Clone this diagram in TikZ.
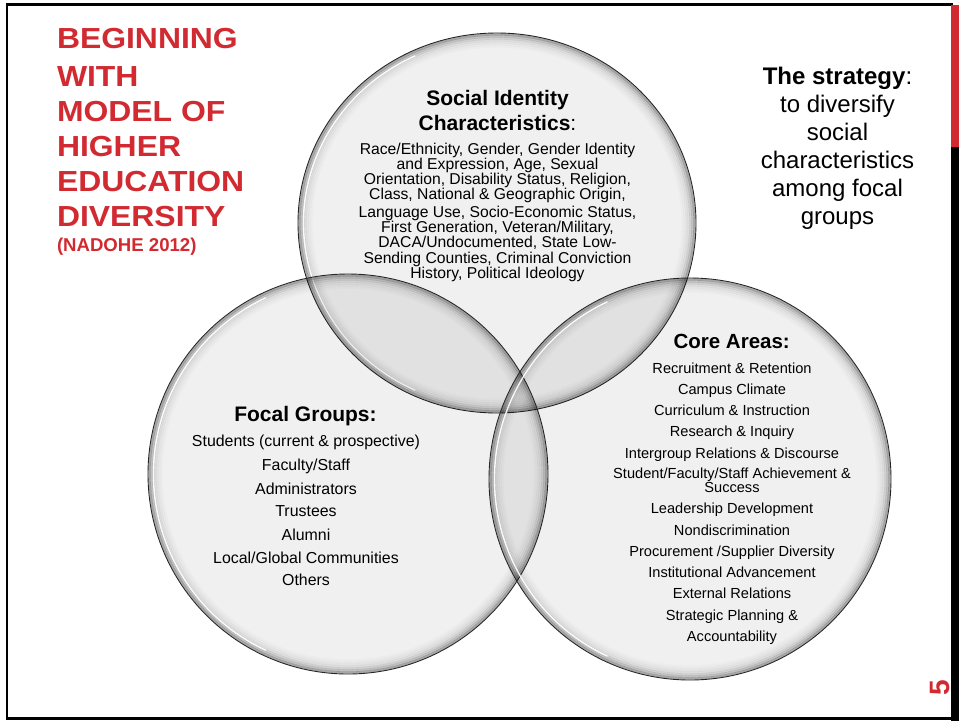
\documentclass[tikz,border=0pt]{standalone}
\usepackage{fontspec}
\setmainfont{Liberation Sans}
\newfontfamily\titlefont[FakeStretch=1.1]{Liberation Sans}
\definecolor{tred}{HTML}{D12A31}
\newcommand\vennshape[3]{%
  \fill[black, opacity=0.06] (#1) ellipse [x radius=#2, y radius=#3];
  \foreach \d/\o in {1.5/0.30,3.5/0.20,5.5/0.13,7.5/0.08,9.5/0.05,11.5/0.03,13.5/0.015}
    \draw[black, opacity=\o, line width=2.2pt] (#1) ellipse [x radius=#2-\d, y radius=#3-\d];
  \draw[white, opacity=0.9, line width=1.4pt] (#1) ++(115:#2-5.5 and #3-5.5)
     arc [start angle=115, end angle=245, x radius=#2-5.5, y radius=#3-5.5];
  \draw[black!85, line width=0.9pt] (#1) ellipse [x radius=#2, y radius=#3];
}
\begin{document}
\begin{tikzpicture}[x=1pt,y=-1pt,
  every node/.style={inner sep=0pt, outer sep=0pt},
  titleline/.style={anchor=base west, text=tred, font=\titlefont\bfseries\fontsize{29}{29}\selectfont},
  subtitle/.style={anchor=base west, text=tred, font=\bfseries\fontsize{18.6}{19}\selectfont},
  headline/.style={anchor=base, font=\bfseries\fontsize{21}{21}\selectfont},
  sline/.style={anchor=base, font=\fontsize{15.7}{16}\selectfont},
  fline/.style={anchor=base, font=\fontsize{15.9}{16}\selectfont},
  cline/.style={anchor=base, font=\fontsize{14.6}{15}\selectfont},
  stline/.style={anchor=base, font=\fontsize{24}{24}\selectfont}]
\useasboundingbox (0,0) rectangle (959,721);
\fill[white] (0,0) rectangle (959,721);

% frame
\draw[black, line width=2.5pt] (7,4.5) rectangle (952,718.5);
\fill[tred] (951,5) rectangle (959,147);
\fill[black] (951,147) rectangle (959,721);

% circles
\coordinate (ctop) at (497,223);
\coordinate (cleft) at (348,474);
\coordinate (cright) at (690,479);
\vennshape{ctop}{199}{190}
\vennshape{cleft}{200}{200}
\vennshape{cright}{201}{201}

% title
\node[titleline] (t1) at (57,48) {BEGINNING};
\node[titleline] (t2) at (57,86) {WITH};
\node[titleline] (t3) at (57,121.5) {MODEL OF};
\node[titleline] (t4) at (57,156.5) {HIGHER};
\node[titleline] (t5) at (57,191) {EDUCATION};
\node[titleline] (t6) at (57,226) {DIVERSITY};
\node[subtitle] (t7) at (57,251) {(NADOHE 2012)};

% strategy
\node[stline] (s1) at (837.5,84) {\textbf{The strategy}:};
\node[stline] (s2) at (837.5,112) {to diversify};
\node[stline] (s3) at (837.5,140) {social};
\node[stline] (s4) at (837.5,168) {characteristics};
\node[stline] (s5) at (837.5,196) {among focal};
\node[stline] (s6) at (837.5,224) {groups};

% social identity
\node[headline] (sih1) at (497.5,105) {Social Identity};
\node[headline] (sih2) at (497.5,130) {Characteristics\textmd{:}};
\node[sline] (si1) at (497.5,154) {Race/Ethnicity, Gender, Gender Identity};
\node[sline] (si2) at (497.5,169.3) {and Expression, Age, Sexual};
\node[sline] (si3) at (497.5,184.3) {Orientation, Disability Status, Religion,};
\node[sline] (si4) at (497.5,199.3) {Class, National \& Geographic Origin,};
\node[sline] (si5) at (497.5,217.7) {Language Use, Socio-Economic Status,};
\node[sline] (si6) at (497.5,232.7) {First Generation, Veteran/Military,};
\node[sline] (si7) at (497.5,247.7) {DACA/Undocumented, State Low-};
\node[sline] (si8) at (497.5,263) {Sending Counties, Criminal Conviction};
\node[sline] (si9) at (497.5,278) {History, Political Ideology};

% focal groups
\node[headline] (fgh) at (305.5,421.7) {Focal Groups:};
\node[fline] (fg1) at (306,446) {Students (current \& prospective)};
\node[fline] (fg2) at (306,470) {Faculty/Staff};
\node[fline] (fg3) at (306,494) {Administrators};
\node[fline] (fg4) at (306,516) {Trustees};
\node[fline] (fg5) at (306,540) {Alumni};
\node[fline] (fg6) at (306,563) {Local/Global Communities};
\node[fline] (fg7) at (306,585) {Others};

% core areas
\node[headline, font=\bfseries\fontsize{20.5}{21}\selectfont] (cah) at (731.7,348) {Core Areas:};
\node[cline] (ca1) at (732,373.3) {Recruitment \& Retention};
\node[cline] (ca2) at (732,394) {Campus Climate};
\node[cline] (ca3) at (732,415) {Curriculum \& Instruction};
\node[cline] (ca4) at (732,436.7) {Research \& Inquiry};
\node[cline] (ca5) at (732,458.3) {Intergroup Relations \& Discourse};
\node[cline] (ca6) at (732,478.5) {Student/Faculty/Staff Achievement \&};
\node[cline] (ca7) at (732,492) {Success};
\node[cline] (ca8) at (732,513.3) {Leadership Development};
\node[cline] (ca9) at (732,535) {Nondiscrimination};
\node[cline] (ca10) at (732,556) {Procurement /Supplier Diversity};
\node[cline] (ca11) at (732,577.3) {Institutional Advancement};
\node[cline] (ca12) at (732,598.3) {External Relations};
\node[cline] (ca13) at (732,620) {Strategic Planning \&};
\node[cline] (ca14) at (732,641.7) {Accountability};

% page number
\node[rotate=90, text=tred, font=\bfseries\fontsize{28}{28}\selectfont] (pnum) at (940,688) {5};
\end{tikzpicture}
\end{document}
